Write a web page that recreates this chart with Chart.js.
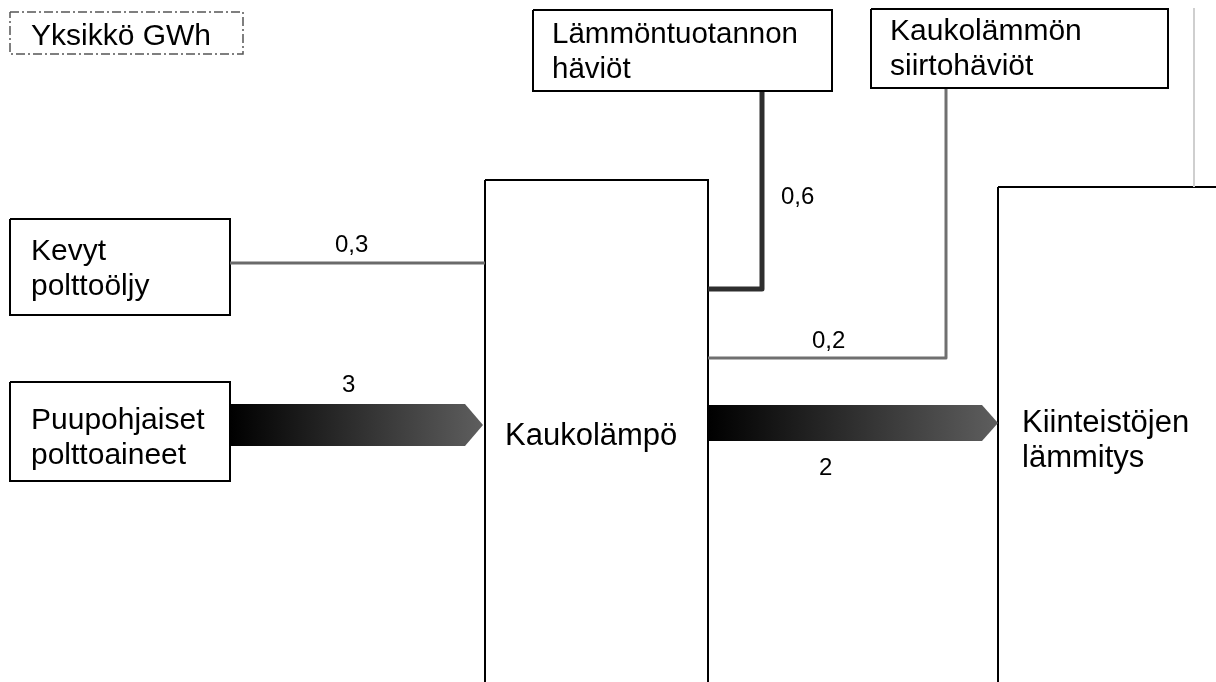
<!DOCTYPE html>
<html><head><meta charset="utf-8">
<script src="https://cdn.jsdelivr.net/npm/chart.js@4/dist/chart.umd.min.js"></script>
<style>html,body{margin:0;padding:0;background:#fff}#wrap{width:1216px;height:682px;position:relative}</style>
</head><body><div id="wrap"><canvas id="c"></canvas></div>
<script>
// ---- data ----
const unitLabel = 'Yksikkö GWh';
const nodeNames = [
  ['Kevyt', 'polttoöljy'],
  ['Puupohjaiset', 'polttoaineet'],
  ['Kaukolämpö'],
  ['Lämmöntuotannon', 'häviöt'],
  ['Kaukolämmön', 'siirtohäviöt'],
  ['Kiinteistöjen', 'lämmitys']
];
const flowFrom = [0, 1, 2, 2, 2];
const flowTo = [2, 2, 3, 4, 5];
const flowValues = [0.3, 3, 0.6, 0.2, 2];
const flowLabels = flowValues.map(v => String(v).replace('.', ','));

// ---- layout (diagram coordinates) ----
const W = 1216, H = 682;
const unitBox = {x0: 10, y0: 12, x1: 243, y1: 54, tx: 31, ty: 45, fs: 30};
const nodeBoxes = [
  {x0: 10, y0: 219, x1: 230, y1: 315, tx: 31, ty: 260, fs: 30},
  {x0: 10, y0: 382, x1: 230, y1: 481, tx: 31, ty: 429, fs: 30},
  {x0: 485, y0: 180, x1: 708, y1: 700, tx: 505, ty: 445, fs: 31},
  {x0: 533, y0: 10, x1: 832, y1: 91, tx: 552, ty: 43, fs: 29.5},
  {x0: 871, y0: 9, x1: 1168, y1: 88, tx: 890, ty: 40, fs: 30},
  {x0: 998, y0: 187, x1: 1230, y1: 700, tx: 1022, ty: 432, fs: 31}
];
const lineGap = 35;
const flowGeom = [
  {type: 'line', pts: [[230, 263], [485, 263]], width: 3, color: '#6a6a6a', lx: 335, ly: 252},
  {type: 'arrow', x0: 230, x1: 483, tip: 465, yTop: 404, yBot: 446, lx: 342, ly: 392},
  {type: 'line', pts: [[708, 289], [762, 289], [762, 92]], width: 5, color: '#2e2e2e', lx: 781, ly: 204},
  {type: 'line', pts: [[708, 358], [946, 358], [946, 89]], width: 3, color: '#707070', lx: 812, ly: 348},
  {type: 'arrow', x0: 708, x1: 998, tip: 982, yTop: 405, yBot: 441, lx: 819, ly: 475}
];
const sideLine = [[1194, 8], [1194, 187]];

// ---- build datasets ----
const rect = b => [{x: b.x0, y: b.y0}, {x: b.x1, y: b.y0}, {x: b.x1, y: b.y1}, {x: b.x0, y: b.y1}, {x: b.x0, y: b.y0}];
const datasets = [];

datasets.push({
  data: sideLine.map(p => ({x: p[0], y: p[1]})),
  showLine: true, borderColor: '#cfcfcf', borderWidth: 2, pointRadius: 0, clip: false
});

flowGeom.forEach((g, i) => {
  if (g.type === 'line') {
    datasets.push({
      data: g.pts.map(p => ({x: p[0], y: p[1]})),
      showLine: true, borderColor: g.color, borderWidth: g.width, pointRadius: 0,
      borderJoinStyle: 'round', borderCapStyle: 'butt', clip: false
    });
  } else {
    const yc = (g.yTop + g.yBot) / 2;
    datasets.push({
      data: [{x: g.x0, y: g.yTop}, {x: g.tip, y: g.yTop}, {x: g.x1, y: yc}, {x: g.tip, y: g.yBot}, {x: g.x0, y: g.yBot}, {x: g.x0, y: g.yTop}],
      showLine: true, borderWidth: 0, borderColor: 'rgba(0,0,0,0)', pointRadius: 0, fill: 'shape', clip: false,
      backgroundColor: (ctx) => {
        const ch = ctx.chart; const xs = ch.scales && ch.scales.x;
        if (!xs || !ch.chartArea) return '#333';
        const gr = ch.ctx.createLinearGradient(xs.getPixelForValue(g.x0), 0, xs.getPixelForValue(g.x1), 0);
        gr.addColorStop(0, '#000000');
        gr.addColorStop(1, '#5e5e5e');
        return gr;
      }
    });
  }
});

nodeBoxes.forEach(b => {
  datasets.push({
    data: rect(b), showLine: true, borderColor: '#000', borderWidth: 2, pointRadius: 0,
    borderJoinStyle: 'miter', clip: false
  });
});

datasets.push({
  data: rect(unitBox), showLine: true, borderColor: '#555', borderWidth: 1.5, pointRadius: 0,
  borderDash: [9, 3, 2, 3], clip: false
});

const textPlugin = {
  id: 'texts',
  afterDatasetsDraw(chart) {
    const {ctx} = chart; const xs = chart.scales.x, ys = chart.scales.y;
    ctx.save();
    ctx.fillStyle = '#000';
    ctx.textAlign = 'left';
    ctx.textBaseline = 'alphabetic';
    ctx.font = unitBox.fs + 'px "Liberation Sans", Arial, sans-serif';
    ctx.fillText(unitLabel, xs.getPixelForValue(unitBox.tx), ys.getPixelForValue(unitBox.ty));
    nodeNames.forEach((lines, i) => {
      const b = nodeBoxes[i];
      ctx.font = b.fs + 'px "Liberation Sans", Arial, sans-serif';
      lines.forEach((t, k) => {
        ctx.fillText(t, xs.getPixelForValue(b.tx), ys.getPixelForValue(b.ty + k * lineGap));
      });
    });
    ctx.font = '24px "Liberation Sans", Arial, sans-serif';
    flowLabels.forEach((t, i) => {
      const g = flowGeom[i];
      ctx.fillText(t, xs.getPixelForValue(g.lx), ys.getPixelForValue(g.ly));
    });
    ctx.restore();
  }
};

new Chart(document.getElementById('c'), {
  type: 'scatter',
  data: {datasets},
  options: {
    responsive: true, maintainAspectRatio: false, animation: false,
    layout: {padding: 0},
    plugins: {legend: {display: false}, tooltip: {enabled: false}},
    scales: {
      x: {type: 'linear', min: 0, max: W, display: false},
      y: {type: 'linear', min: 0, max: H, reverse: true, display: false}
    }
  },
  plugins: [textPlugin]
});
</script>
</body></html>
